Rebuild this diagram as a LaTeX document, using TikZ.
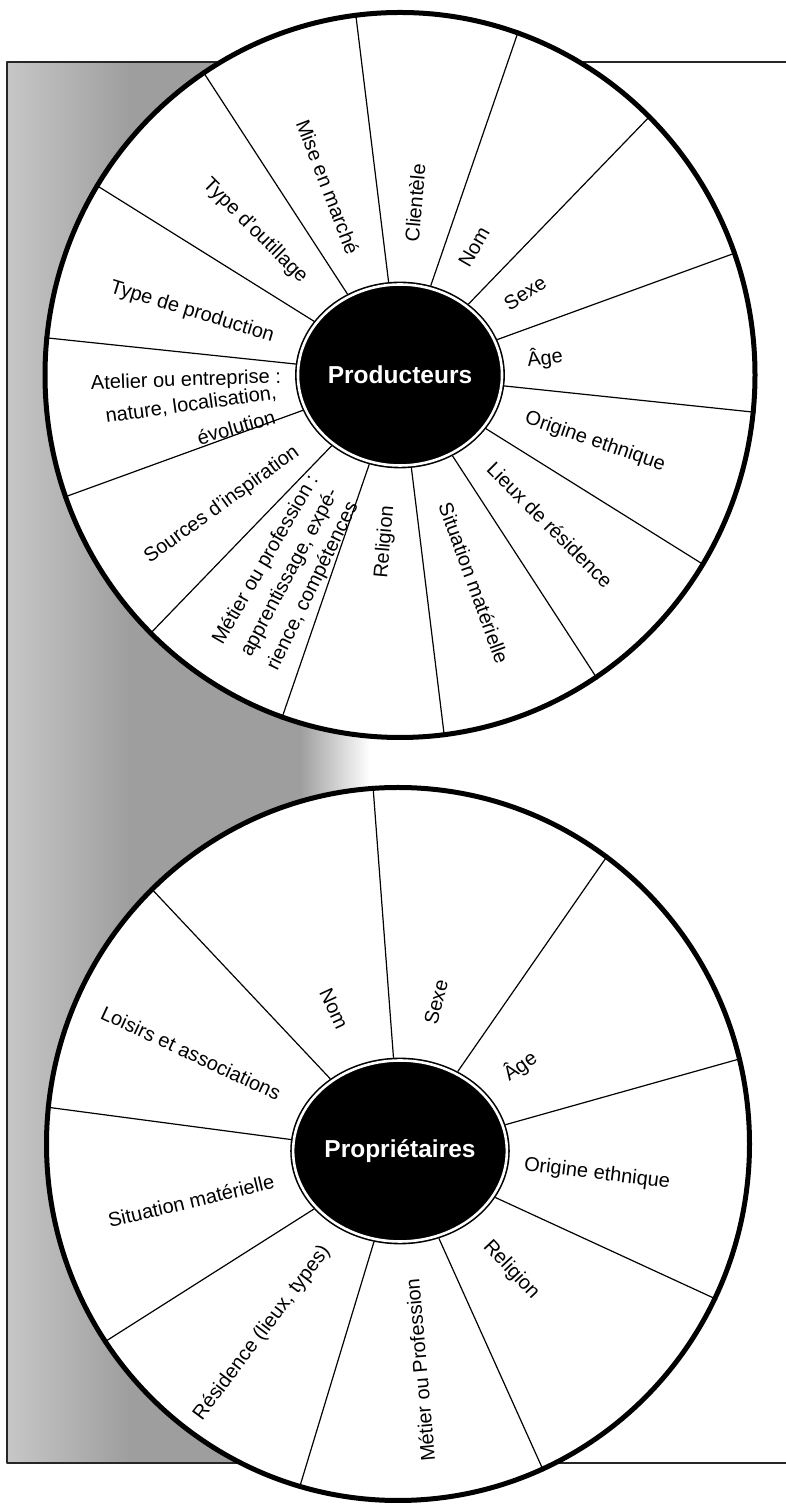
\documentclass[tikz,border=0pt]{standalone}
\usepackage{fontspec}
\setmainfont{Liberation Sans}
\usetikzlibrary{shapes.geometric}

\begin{document}
\begin{tikzpicture}[x=1pt,y=1pt,line join=bevel,
  wheel/.style={ellipse,draw=black,fill=white,line width=5pt,inner sep=0pt},
  hub/.style={ellipse,fill=black,draw=black,line width=1.6pt,double=white,double distance=2.6pt,
    minimum width=178pt,minimum height=181pt,inner sep=0pt,outer sep=2.9pt,
    text=white,font=\bfseries\fontsize{24.5}{28}\selectfont},
  spoke/.style={black,line width=1.2pt},
  lbl/.style={inner sep=0pt,font=\fontsize{20}{24}\selectfont},
  frame/.style={black!85,line width=1.5pt}]
%%
\useasboundingbox (0,0) rectangle (785,1505);
\fill [black!38] (129,42) rectangle (301,1443);
\shade [left color=black!22,right color=black!38] (7,42) rectangle (130,1443);
\shade [left color=black!38,right color=white] (300,42) rectangle (370,1443);
\draw [frame] (790,1443) -| (7,42) -- (790,42);
%%
\node (wtop) at (400,1130) [wheel,minimum width=710pt,minimum height=725pt] {};
\node (wbot) at (398,361) [wheel,minimum width=703pt,minimum height=713pt] {};
\node (prod) at (400,1130) [hub] {Producteurs};
\node (prop) at (400,354) [hub] {Propriétaires};
%%
\draw [spoke] (prod.97.5) -- (wtop.97.5);
\draw [spoke] (prod.71.79) -- (wtop.71.79);
\draw [spoke] (prod.46.07) -- (wtop.46.07);
\draw [spoke] (prod.20.36) -- (wtop.20.36);
\draw [spoke] (prod.354.64) -- (wtop.354.64);
\draw [spoke] (prod.328.93) -- (wtop.328.93);
\draw [spoke] (prod.303.21) -- (wtop.303.21);
\draw [spoke] (prod.277.5) -- (wtop.277.5);
\draw [spoke] (prod.251.79) -- (wtop.251.79);
\draw [spoke] (prod.226.07) -- (wtop.226.07);
\draw [spoke] (prod.200.36) -- (wtop.200.36);
\draw [spoke] (prod.174.64) -- (wtop.174.64);
\draw [spoke] (prod.148.93) -- (wtop.148.93);
\draw [spoke] (prod.123.21) -- (wtop.123.21);
%
\draw [spoke] (prop.94.5) -- (wbot.94.5);
\draw [spoke] (prop.54.5) -- (wbot.54.5);
\draw [spoke] (prop.14.5) -- (wbot.14.5);
\draw [spoke] (prop.334.5) -- (wbot.334.5);
\draw [spoke] (prop.294.5) -- (wbot.294.5);
\draw [spoke] (prop.254.5) -- (wbot.254.5);
\draw [spoke] (prop.214.5) -- (wbot.214.5);
\draw [spoke] (prop.174.5) -- (wbot.174.5);
\draw [spoke] (prop.134.5) -- (wbot.134.5);
%%
\node (clientele) at (415,1302) [lbl,rotate=85] {Clientèle};
\node (nomP) at (474,1258) [lbl,rotate=60] {Nom};
\node (sexeP) at (525,1212) [lbl,rotate=33] {Sexe};
\node (ageP) at (545,1147) [lbl,rotate=7] {Âge};
\node (origP) at (595,1063) [lbl,rotate=-19] {Origine ethnique};
\node (lieux) at (550,980) [lbl,rotate=-45] {Lieux de résidence};
\node (sitP) at (474,922) [lbl,rotate=-70] {Situation matérielle};
\node (relP) at (385,963) [lbl,rotate=85] {Religion};
\node (metierA) at (266,945) [lbl,rotate=60] {Métier ou profession :};
\node (metierB) at (290,932) [lbl,rotate=62] {apprentissage, expé-};
\node (metierC) at (313,919) [lbl,rotate=64] {rience, compétences};
\node (sources) at (222,1000) [lbl,rotate=36] {Sources d’inspiration};
\node (atelierA) at (186,1124) [lbl,rotate=2] {Atelier ou entreprise :};
\node (atelierB) at (191,1100) [lbl,rotate=8] {nature, localisation,};
\node (atelierC) at (236,1078) [lbl,rotate=16] {évolution};
\node (typeprod) at (192,1193) [lbl,rotate=-17] {Type de production};
\node (outillage) at (255,1274) [lbl,rotate=-45] {Type d’outillage};
\node (marche) at (328,1318) [lbl,rotate=-69] {Mise en marché};
%
\node (sexeQ) at (436,503) [lbl,rotate=76] {Sexe};
\node (nomQ) at (334,496) [lbl,rotate=-65] {Nom};
\node (loisirs) at (191,452) [lbl,rotate=-25] {Loisirs et associations};
\node (ageQ) at (520,439) [lbl,rotate=35] {Âge};
\node (origQ) at (597,331) [lbl,rotate=-7] {Origine ethnique};
\node (relQ) at (511,235) [lbl,rotate=-47] {Religion};
\node (metierQ) at (420,135) [lbl,rotate=95] {Métier ou Profession};
\node (residence) at (262,172) [lbl,rotate=53] {Résidence (lieux, types)};
\node (sitQ) at (191,304) [lbl,rotate=13.5] {Situation matérielle};
%
\end{tikzpicture}
\end{document}
